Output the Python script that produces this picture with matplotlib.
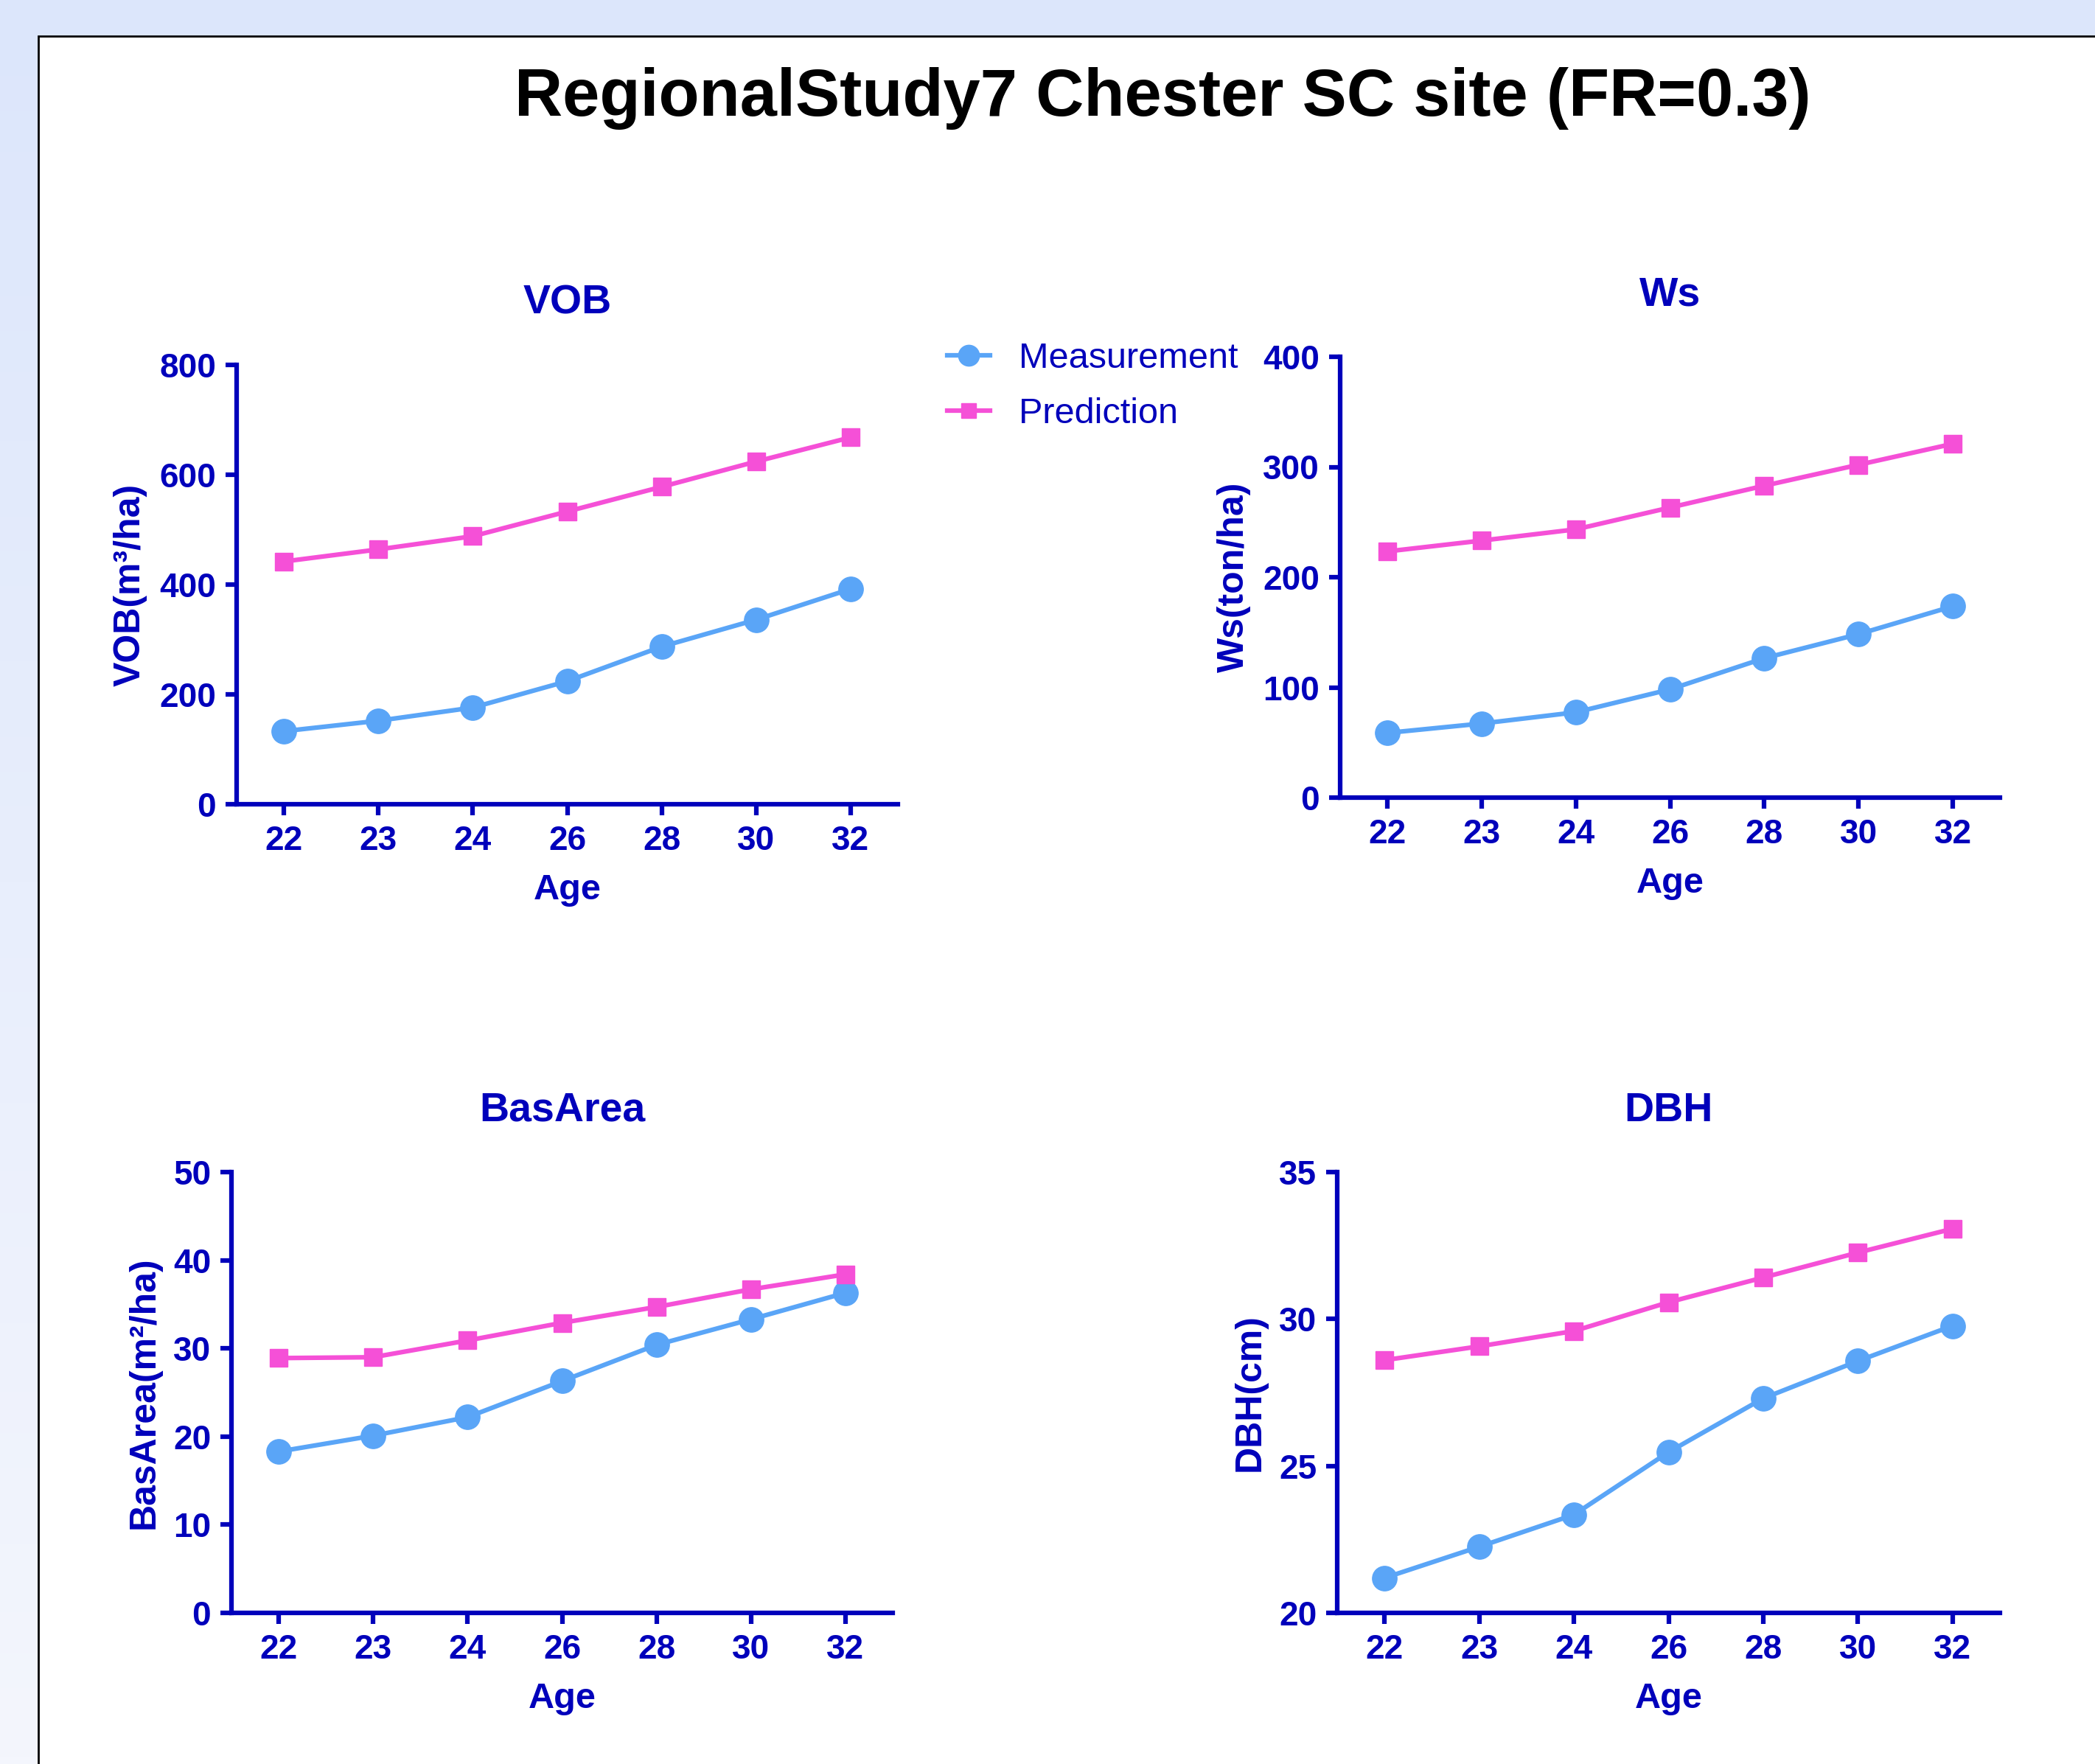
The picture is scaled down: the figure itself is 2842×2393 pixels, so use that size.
import numpy as np
import matplotlib
matplotlib.use("Agg")
import matplotlib.pyplot as plt
from matplotlib.patches import Rectangle

# data
ages = ['22', '23', '24', '26', '28', '30', '32']
vob_meas = [133, 152, 176, 224, 287, 336, 392]
vob_pred = [442, 464, 488, 533, 578, 624, 668]
ws_meas = [58.7, 67.2, 77.4, 98.2, 126.5, 148.3, 173.6]
ws_pred = [223.4, 233.2, 243.4, 263.2, 283.0, 302.0, 321.0]
ba_meas = [18.3, 20.1, 22.2, 26.3, 30.4, 33.3, 36.3]
ba_pred = [28.9, 29.0, 30.9, 32.9, 34.7, 36.7, 38.4]
dbh_meas = [21.19, 22.25, 23.34, 25.47, 27.30, 28.57, 29.77]
dbh_pred = [28.60, 29.07, 29.59, 30.57, 31.41, 32.26, 33.07]

BLUE = '#0000BB'
C_MEAS = '#5AA5F7'
C_PRED = '#F550D7'

plt.rcParams['font.family'] = ['Liberation Sans', 'DejaVu Sans']

W, H = 2842, 2393
fig = plt.figure(figsize=(W / 100, H / 100), dpi=100)

# light blue gradient background + white panel
bg = fig.add_axes([0, 0, 1, 1], zorder=-10)
grad = np.linspace(0, 1, 256).reshape(-1, 1)
top = np.array([220, 230, 251]) / 255
bot = np.array([244, 246, 253]) / 255
img = top[None, None, :] * (1 - grad[..., None]) + bot[None, None, :] * grad[..., None]
bg.imshow(img, aspect='auto', extent=[0, 1, 0, 1])
bg.add_patch(Rectangle((52 / W, -0.01), 1.05, 1 - 49 / H + 0.01, facecolor='white',
                       edgecolor='black', linewidth=2, transform=bg.transAxes))
bg.set_xlim(0, 1)
bg.set_ylim(0, 1)
bg.axis('off')

fig.text(1577 / W, 1 - 133 / H, 'RegionalStudy7 Chester SC site (FR=0.3)',
         ha='center', va='center', fontsize=65, fontweight='bold', color='black')

panels = [
    ([321 / W, 1 - 1091 / H, 897 / W, 596 / H], 'VOB', 'VOB(m³/ha)', vob_meas, vob_pred, (0, 800), np.arange(0, 801, 200)),
    ([1818 / W, 1 - 1082 / H, 895 / W, 598 / H], 'Ws', 'Ws(ton/ha)', ws_meas, ws_pred, (0, 400), np.arange(0, 401, 100)),
    ([314 / W, 1 - 2188 / H, 897 / W, 598 / H], 'BasArea', 'BasArea(m²/ha)', ba_meas, ba_pred, (0, 50), np.arange(0, 51, 10)),
    ([1814 / W, 1 - 2188 / H, 899 / W, 598 / H], 'DBH', 'DBH(cm)', dbh_meas, dbh_pred, (20, 35), np.arange(20, 36, 5)),
]

x = np.arange(len(ages))
for rect, title, ylab, meas, pred, ylim, yt in panels:
    ax = fig.add_axes(rect)
    ax.plot(x, meas, '-o', color=C_MEAS, lw=4.5, markersize=24, label='Measurement', clip_on=False)
    ax.plot(x, pred, '-s', color=C_PRED, lw=4.5, markersize=17, label='Prediction', clip_on=False)
    ax.set_xlim(-0.5, 6.5)
    ax.set_ylim(*ylim)
    ax.set_yticks(yt)
    ax.set_xticks(x)
    ax.set_xticklabels(ages)
    for s in ['top', 'right']:
        ax.spines[s].set_visible(False)
    for s in ['left', 'bottom']:
        ax.spines[s].set_color(BLUE)
        ax.spines[s].set_linewidth(4.5)
    ax.tick_params(colors=BLUE, width=4.5, length=11, labelsize=33, pad=9)
    for lb in ax.get_xticklabels() + ax.get_yticklabels():
        lb.set_fontweight('bold')
    ax.set_title(title, color=BLUE, fontsize=40, fontweight='bold', pad=50)
    ax.set_xlabel('Age', color=BLUE, fontsize=35, fontweight='bold', labelpad=16)
    ax.set_ylabel(ylab, color=BLUE, fontsize=36, fontweight='bold', labelpad=12)
    if title == 'VOB':
        handles, labels = ax.get_legend_handles_labels()

fig.legend(handles, labels, loc='upper left', bbox_to_anchor=(1241 / W, 1 - 420 / H),
           frameon=False, fontsize=35, labelcolor=BLUE, handlelength=1.2,
           handletextpad=0.8, labelspacing=0.62, markerscale=0.85)

fig.savefig('out.png', dpi=100)
